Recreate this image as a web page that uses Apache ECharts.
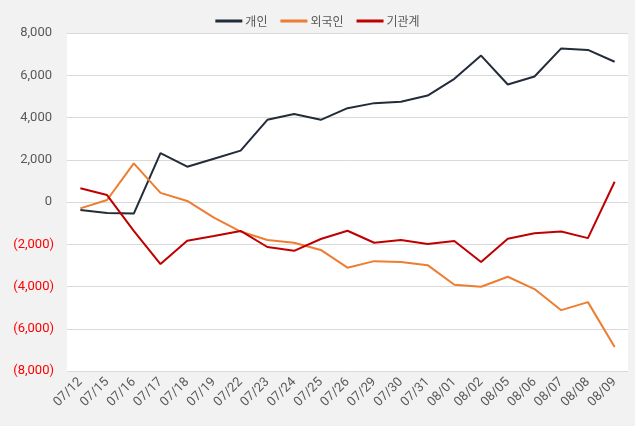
<!DOCTYPE html>
<html>
<head>
<meta charset="utf-8">
<script src="https://cdn.jsdelivr.net/npm/echarts@6/dist/echarts.min.js"></script>
<style>
html,body{margin:0;padding:0;background:#f2f2f2;}
#c{width:635px;height:426px;}
</style>
</head>
<body>
<div id="c"></div>
<script>
const categories = ['07/12','07/15','07/16','07/17','07/18','07/19','07/22','07/23','07/24','07/25','07/26','07/29','07/30','07/31','08/01','08/02','08/05','08/06','08/07','08/08','08/09'];
const individual = [-380,-520,-550,2310,1670,2050,2430,3890,4170,3890,4440,4680,4750,5040,5830,6930,5560,5940,7270,7200,6640];
const foreign = [-300,95,1830,430,50,-740,-1400,-1800,-1930,-2270,-3110,-2800,-2840,-2990,-3920,-4010,-3540,-4120,-5120,-4740,-6860];
const institution = [650,330,-1370,-2940,-1830,-1610,-1370,-2130,-2310,-1750,-1360,-1930,-1800,-1990,-1850,-2840,-1740,-1480,-1400,-1710,960];
const seriesNames = ['개인','외국인','기관계'];

const fontFam = '"Noto Sans CJK KR","Noto Sans",Roboto,sans-serif';
const chart = echarts.init(document.getElementById('c'), null, {renderer:'canvas'});
function fmt(v){
  const s = Math.abs(v).toLocaleString('en-US');
  return v < 0 ? '{n|(' + s + ')}' : '{p|' + s + '}';
}
chart.setOption({
  backgroundColor:'#f2f2f2',
  animation:false,
  legend:{
    data:seriesNames,
    top:10,
    left:'center',
    itemWidth:27,
    itemHeight:3,
    itemGap:13,
    icon:'rect',
    textStyle:{color:'#595959',fontSize:12,fontFamily:fontFam,padding:[0,0,0,-2]}
  },
  grid:{left:67,right:7,top:33,bottom:55,show:true,backgroundColor:'#ffffff',borderWidth:0},
  xAxis:{
    type:'category',
    data:categories,
    boundaryGap:true,
    axisLine:{lineStyle:{color:'#d9d9d9'}},
    axisTick:{show:false},
    axisLabel:{rotate:45,color:'#595959',fontSize:13,fontFamily:'Roboto,"Noto Sans",sans-serif',margin:9,interval:0}
  },
  yAxis:{
    type:'value',
    min:-8000,max:8000,interval:2000,
    axisLine:{show:false},
    axisTick:{show:false},
    splitLine:{lineStyle:{color:'#d9d9d9',width:1}},
    axisLabel:{
      formatter:fmt,
      margin:13,
      fontSize:13,
      fontFamily:'Roboto,"Noto Sans",sans-serif',
      rich:{
        p:{color:'#595959',fontSize:13,fontFamily:'Roboto,"Noto Sans",sans-serif',padding:[0,2,0,0]},
        n:{color:'#ff0000',fontSize:13,fontFamily:'Roboto,"Noto Sans",sans-serif'}
      }
    }
  },
  series:[
    {name:seriesNames[0],type:'line',data:individual,symbol:'none',lineStyle:{width:2,color:'#232c39'},itemStyle:{color:'#232c39'}},
    {name:seriesNames[1],type:'line',data:foreign,symbol:'none',lineStyle:{width:2,color:'#ed7d31'},itemStyle:{color:'#ed7d31'}},
    {name:seriesNames[2],type:'line',data:institution,symbol:'none',lineStyle:{width:2,color:'#c00000'},itemStyle:{color:'#c00000'}}
  ]
});
</script>
</body>
</html>
